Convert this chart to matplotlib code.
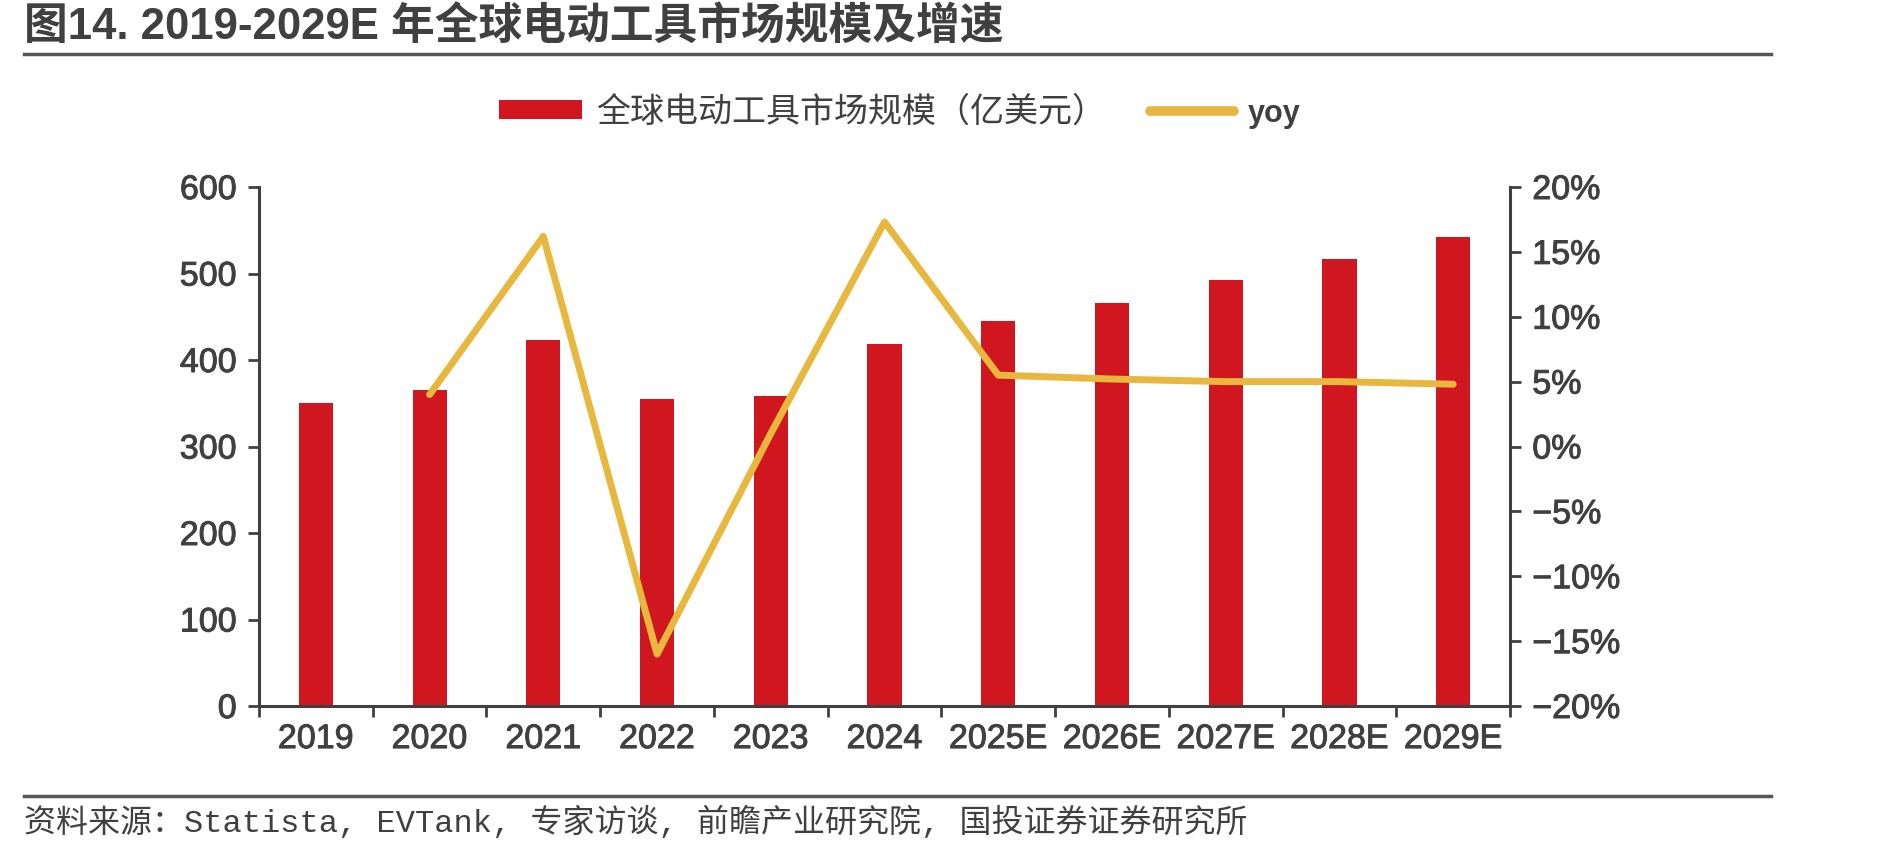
import numpy as np
import matplotlib
matplotlib.use('Agg')
from matplotlib import pyplot as plt
from matplotlib import patheffects
from matplotlib.lines import Line2D
from matplotlib.patches import Patch

plt.rcParams['font.family'] = ['Liberation Sans', 'Noto Sans CJK SC']

years = ['2019', '2020', '2021', '2022', '2023', '2024', '2025E', '2026E', '2027E', '2028E', '2029E']
market_size = [350, 365, 423, 355, 358, 419, 445, 466, 492, 517, 542]
yoy_years = years[1:]
yoy = [4.0, 16.2, -16.0, 1.0, 17.3, 5.5, 5.2, 5.0, 5.0, 4.8]

title = '图14. 2019-2029E 年全球电动工具市场规模及增速'
bar_label = '全球电动工具市场规模（亿美元）'
line_label = 'yoy'
source = '资料来源：Statista, EVTank, 专家访谈, 前瞻产业研究院, 国投证券证券研究所'

RED = '#D0171F'
YELLOW = '#E8B83E'
DARK = '#404040'
CJK = ['Noto Sans CJK SC', 'DejaVu Sans']
thick = [patheffects.withStroke(linewidth=0.7, foreground=DARK)]

fig = plt.figure(figsize=(18.89, 8.5), dpi=100)
ax = fig.add_axes([0.1371, 0.1694, 0.6623, 0.6106])
ax2 = ax.twinx()

x = np.arange(len(years))
ax.bar(x, market_size, width=0.30, color=RED, zorder=2)
x_yoy = np.arange(1, len(years))
ax2.plot(x_yoy, yoy, color=YELLOW, lw=5, solid_capstyle='round', solid_joinstyle='round', zorder=3)

ax.set_xlim(-0.5, len(years) - 0.5)
ax.set_ylim(0, 600)
ax.set_yticks(range(0, 601, 100))
ax2.set_ylim(-20, 20)
ax2.set_yticks(range(-20, 21, 5))
ax2.set_yticklabels([f'{v}%'.replace('-', '\u2212') for v in range(-20, 21, 5)])

ax.set_xticks(x)
ax.set_xticklabels(years)
ax.set_xticks(np.arange(-0.5, len(years), 1.0), minor=True)
ax.tick_params(axis='x', which='major', length=0, pad=13, labelsize=24.5, labelcolor=DARK)
ax.tick_params(axis='x', which='minor', length=8, width=2, color=DARK, direction='out')
ax.tick_params(axis='y', length=8, width=2, color=DARK, labelsize=24.5, labelcolor=DARK, pad=8)
ax2.tick_params(axis='y', length=8, width=2, color=DARK, labelsize=24.5, labelcolor=DARK, pad=8)
for t in ax.get_xticklabels() + ax.get_yticklabels() + ax2.get_yticklabels():
    t.set_path_effects(thick)

for a in (ax, ax2):
    for s in a.spines.values():
        s.set_color(DARK)
        s.set_linewidth(2.2)
    a.spines['top'].set_visible(False)
ax.spines['right'].set_visible(False)
ax2.spines['left'].set_visible(False)
ax2.spines['bottom'].set_visible(False)

handles = [Patch(facecolor=RED, edgecolor='none'),
           Line2D([0], [0], color=YELLOW, lw=7, solid_capstyle='round')]
leg = fig.legend(handles, [bar_label, line_label], loc='center', bbox_to_anchor=(0.4762, 0.868),
                 ncol=2, frameon=False, handlelength=2.45, handleheight=0.45, columnspacing=1.3,
                 handletextpad=0.4, prop={'family': CJK, 'size': 24.5})
for t in leg.get_texts():
    t.set_color(DARK)
yoy_text = leg.get_texts()[1]
yoy_text.set_fontweight('bold')
yoy_text.set_fontfamily('Liberation Sans')
yoy_text.set_fontsize(22)

fig.text(0.0127, 0.967, title, fontsize=31.5, fontweight='bold', color=DARK,
         family=['Liberation Sans', 'Noto Sans CJK SC'], ha='left', va='center')
fig.add_artist(Line2D([0.0127, 0.9375], [0.936, 0.936], color='#555555', lw=2.5))
fig.add_artist(Line2D([0.0127, 0.9375], [0.064, 0.064], color='#555555', lw=2.5))
fig.text(0.0127, 0.032, source, fontsize=23, color=DARK, family=['Liberation Mono', 'Noto Sans CJK SC'],
         ha='left', va='center')

fig.savefig('out.png', dpi=100)
